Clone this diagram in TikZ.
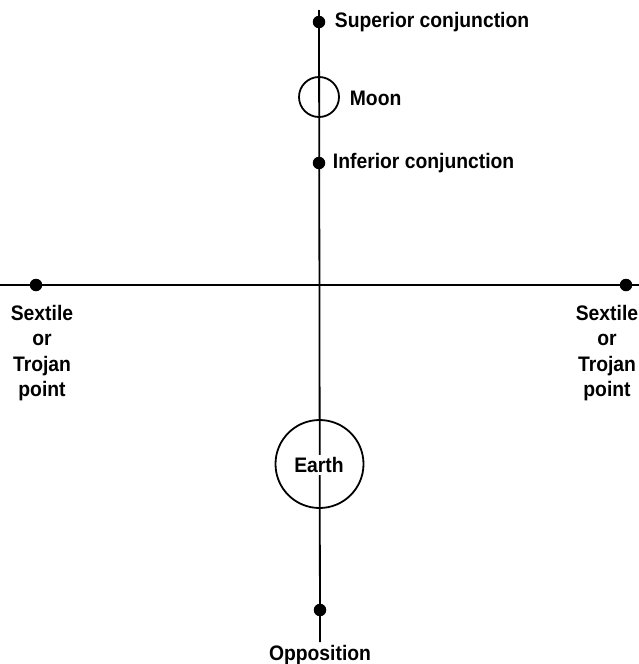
\documentclass[tikz,border=0pt]{standalone}
\usepackage{fontspec}
\setmainfont{Liberation Sans}[FakeStretch=0.92]
\begin{document}
\begin{tikzpicture}[x=1pt,y=-1pt,
  line width=1.8pt,
  dot/.style={circle,fill=black,inner sep=0pt,minimum size=12.5pt},
  lbl/.style={font=\fontsize{21}{25.5}\selectfont\bfseries,inner sep=0pt},
  body/.style={circle,draw,inner sep=0pt}]
\useasboundingbox (0,0) rectangle (639,664);
\coordinate (top) at (319,10);
\coordinate (bot) at (320,642);
\coordinate (west) at (0,285);
\coordinate (east) at (639,285);
\draw (top) -- (bot);
\draw (west) -- (east);
\node[dot] (sup) at (319,22) {};
\node[body,minimum size=40pt] (moon) at (319,97) {};
\node[dot] (inf) at (319,163) {};
\node[dot] (lt) at (36,285) {};
\node[dot] (rt) at (626,285) {};
\node[body,minimum size=88pt] (earth) at (319.5,464) {};
\node[dot] (opp) at (320,610) {};
\node[lbl,anchor=west] (suplbl) at (334,22) {Superior conjunction};
\node[lbl,anchor=west] (moonlbl) at (349,98) {Moon};
\node[lbl,anchor=west] (inflbl) at (332,163) {Inferior conjunction};
\node[lbl,align=center,anchor=north] (ltlbl) at (42,304) {Sextile\\or\\Trojan\\point};
\node[lbl,align=center,anchor=north] (rtlbl) at (607,304) {Sextile\\or\\Trojan\\point};
\node[lbl,fill=white,inner ysep=2pt] (earthlbl) at (319,465) {Earth};
\node[lbl] (opplbl) at (320,655) {Opposition};
\end{tikzpicture}
\end{document}
